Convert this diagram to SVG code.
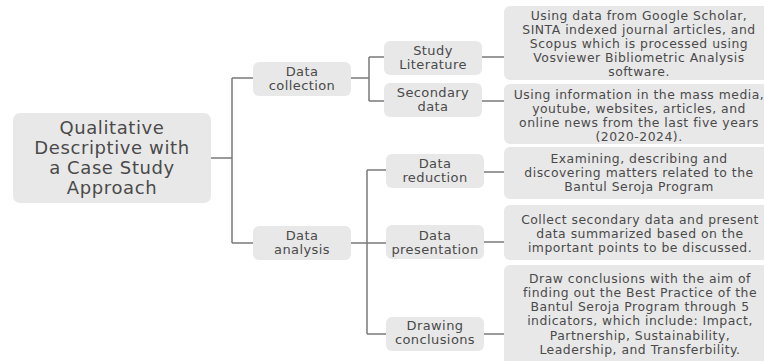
<svg xmlns="http://www.w3.org/2000/svg" width="764" height="361" viewBox="0 0 764 361">
  <style>
    .box { fill: #e8e8e8; }
    .lbl { font-family: "DejaVu Sans", "Noto Sans", sans-serif; fill: #4a4a4a; text-anchor: middle; }
    .root { font-size: 18px; letter-spacing: 0.6px; }
    .mid { font-size: 13px; letter-spacing: 0.4px; }
    .desc { font-size: 12.4px; letter-spacing: 0.5px; }
    .link { fill: none; stroke: #7a7a7a; stroke-width: 1.5; }
  </style>
  <rect width="764" height="361" fill="#ffffff"/>

  <!-- connectors -->
  <g id="connectors">
    <path class="link" d="M211 158 H232 M232 78 V243 M232 78 H253 M232 243 H253"/>
    <path class="link" d="M351 78 H369 M369 57 V101 M369 57 H384 M369 101 H384"/>
    <path class="link" d="M482 57 H504 M482 101 H504"/>
    <path class="link" d="M351 243 H387 M367 170 V334 M367 170 H387 M367 334 H387"/>
    <path class="link" d="M484 172 H504 M484 242 H504 M484 334 H504"/>
  </g>

  <!-- root -->
  <g id="root">
    <rect class="box" x="13" y="113" width="198" height="90" rx="7"/>
    <text class="lbl root" x="112" y="134">Qualitative</text>
    <text class="lbl root" x="112" y="154">Descriptive with</text>
    <text class="lbl root" x="112" y="174">a Case Study</text>
    <text class="lbl root" x="112" y="194">Approach</text>
  </g>

  <!-- first level -->
  <g id="data-collection">
    <rect class="box" x="253" y="62" width="98" height="34" rx="6"/>
    <text class="lbl mid" x="302" y="76">Data</text>
    <text class="lbl mid" x="302" y="90">collection</text>
  </g>
  <g id="data-analysis">
    <rect class="box" x="253" y="226" width="98" height="34" rx="6"/>
    <text class="lbl mid" x="302" y="240">Data</text>
    <text class="lbl mid" x="302" y="254">analysis</text>
  </g>

  <!-- second level -->
  <g id="study-literature">
    <rect class="box" x="384" y="41" width="98" height="34" rx="6"/>
    <text class="lbl mid" x="433" y="55">Study</text>
    <text class="lbl mid" x="433" y="69">Literature</text>
  </g>
  <g id="secondary-data">
    <rect class="box" x="384" y="83" width="98" height="34" rx="6"/>
    <text class="lbl mid" x="433" y="97">Secondary</text>
    <text class="lbl mid" x="433" y="111">data</text>
  </g>
  <g id="data-reduction">
    <rect class="box" x="386" y="154" width="98" height="34" rx="6"/>
    <text class="lbl mid" x="435" y="168">Data</text>
    <text class="lbl mid" x="435" y="182">reduction</text>
  </g>
  <g id="data-presentation">
    <rect class="box" x="386" y="225" width="98" height="34" rx="6"/>
    <text class="lbl mid" x="435" y="240">Data</text>
    <text class="lbl mid" x="435" y="254">presentation</text>
  </g>
  <g id="drawing-conclusions">
    <rect class="box" x="386" y="317" width="98" height="34" rx="6"/>
    <text class="lbl mid" x="435" y="330">Drawing</text>
    <text class="lbl mid" x="435" y="344">conclusions</text>
  </g>

  <!-- descriptions -->
  <g id="desc-study-literature">
    <rect class="box" x="504" y="6" width="266" height="74" rx="6"/>
    <text class="lbl desc" x="639" y="19.5">Using data from Google Scholar,</text>
    <text class="lbl desc" x="639" y="33.5">SINTA indexed journal articles, and</text>
    <text class="lbl desc" x="639" y="47.5">Scopus which is processed using</text>
    <text class="lbl desc" x="639" y="61.5">Vosviewer Bibliometric Analysis</text>
    <text class="lbl desc" x="639" y="75.5">software.</text>
  </g>
  <g id="desc-secondary-data">
    <rect class="box" x="504" y="84" width="266" height="60" rx="6"/>
    <text class="lbl desc" x="639" y="98.5">Using information in the mass media,</text>
    <text class="lbl desc" x="639" y="112.5">youtube, websites, articles, and</text>
    <text class="lbl desc" x="639" y="126.5">online news from the last five years</text>
    <text class="lbl desc" x="639" y="140.5">(2020-2024).</text>
  </g>
  <g id="desc-data-reduction">
    <rect class="box" x="504" y="147" width="266" height="52" rx="6"/>
    <text class="lbl desc" x="639" y="162.5">Examining, describing and</text>
    <text class="lbl desc" x="639" y="176.5">discovering matters related to the</text>
    <text class="lbl desc" x="639" y="190.5">Bantul Seroja Program</text>
  </g>
  <g id="desc-data-presentation">
    <rect class="box" x="504" y="205" width="266" height="55" rx="6"/>
    <text class="lbl desc" x="640" y="223.5">Collect secondary data and present</text>
    <text class="lbl desc" x="640" y="237.5">data summarized based on the</text>
    <text class="lbl desc" x="640" y="251.5">important points to be discussed.</text>
  </g>
  <g id="desc-drawing-conclusions">
    <rect class="box" x="504" y="265" width="266" height="100" rx="6"/>
    <text class="lbl desc" x="640" y="282.5">Draw conclusions with the aim of</text>
    <text class="lbl desc" x="640" y="296.5">finding out the Best Practice of the</text>
    <text class="lbl desc" x="640" y="310.5">Bantul Seroja Program through 5</text>
    <text class="lbl desc" x="640" y="325">indicators, which include: Impact,</text>
    <text class="lbl desc" x="640" y="339.5">Partnership, Sustainability,</text>
    <text class="lbl desc" x="640" y="354">Leadership, and Transferbility.</text>
  </g>
</svg>
